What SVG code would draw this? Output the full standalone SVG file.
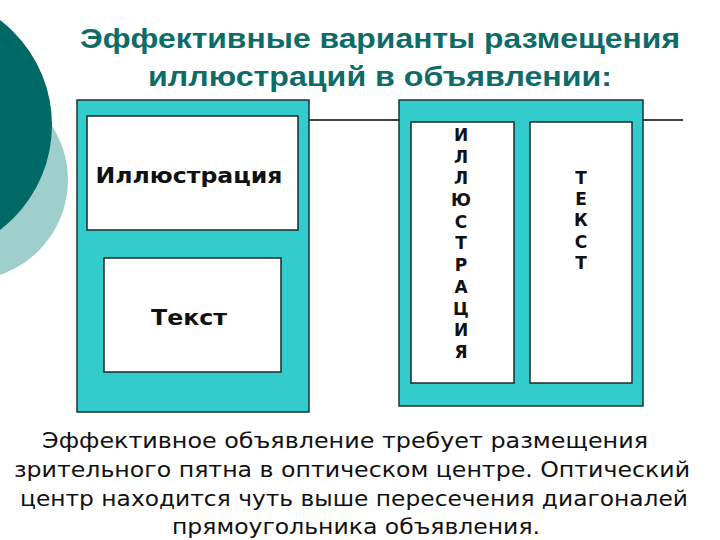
<svg xmlns="http://www.w3.org/2000/svg" width="720" height="540" viewBox="0 0 720 540">
<style>
.title{font-family:"Liberation Sans",Arial,sans-serif;font-weight:bold;font-size:28px;fill:#0d6b68;text-anchor:middle}
.lbl{font-family:"DejaVu Sans",Verdana,sans-serif;font-weight:bold;fill:#111;text-anchor:middle}
.body{font-family:"DejaVu Sans",Tahoma,sans-serif;font-size:22px;fill:#111;text-anchor:middle}
.outer{fill:#33cccc;stroke:#1a3333;stroke-width:1.5}
.inner{fill:#ffffff;stroke:#1a2a2a;stroke-width:1.5}
</style>
<rect width="720" height="540" fill="#ffffff"/>
<g id="decor">
<circle cx="-32" cy="180" r="100" fill="#9ecfcd"/>
<circle cx="-80" cy="125" r="132" fill="#006966"/>
</g>
<g id="title">
<text class="title" x="380" y="48" textLength="600" lengthAdjust="spacingAndGlyphs">Эффективные варианты размещения</text>
<text class="title" x="380" y="86" textLength="464" lengthAdjust="spacingAndGlyphs">иллюстраций в объявлении:</text>
</g>
<g id="connectors">
<line x1="309" y1="120" x2="683" y2="120" stroke="#000" stroke-width="1.3"/>
</g>
<g id="layout1">
<rect class="outer" x="77" y="100" width="232" height="312"/>
<g id="illus1">
<rect class="inner" x="87" y="116" width="211" height="114"/>
<text class="lbl" x="189" y="183" font-size="21" textLength="187" lengthAdjust="spacingAndGlyphs">Иллюстрация</text>
</g>
<g id="text1">
<rect class="inner" x="104" y="258" width="177" height="114"/>
<text class="lbl" x="189" y="325" font-size="21" textLength="76" lengthAdjust="spacingAndGlyphs">Текст</text>
</g>
</g>
<g id="layout2">
<rect class="outer" x="399" y="100" width="244" height="306"/>
<g id="illus2">
<rect class="inner" x="411" y="122" width="103" height="261"/>
<g class="lbl" font-size="17">
<text x="461" y="141">И</text>
<text x="461" y="163">Л</text>
<text x="461" y="184">Л</text>
<text x="461" y="206">Ю</text>
<text x="461" y="228">С</text>
<text x="461" y="249">Т</text>
<text x="461" y="271">Р</text>
<text x="461" y="293">А</text>
<text x="461" y="315">Ц</text>
<text x="461" y="336">И</text>
<text x="461" y="358">Я</text>
</g>
</g>
<g id="text2">
<rect class="inner" x="530" y="122" width="102" height="261"/>
<g class="lbl" font-size="17">
<text x="581" y="184">Т</text>
<text x="581" y="205">Е</text>
<text x="581" y="226">К</text>
<text x="581" y="248">С</text>
<text x="581" y="269">Т</text>
</g>
</g>
</g>
<g id="caption">
<text class="body" x="345" y="448" textLength="606" lengthAdjust="spacingAndGlyphs">Эффективное объявление требует размещения</text>
<text class="body" x="352" y="477" textLength="676" lengthAdjust="spacingAndGlyphs">зрительного пятна в оптическом центре. Оптический</text>
<text class="body" x="354" y="506" textLength="668" lengthAdjust="spacingAndGlyphs">центр находится чуть выше пересечения диагоналей</text>
<text class="body" x="356" y="534" textLength="368" lengthAdjust="spacingAndGlyphs">прямоугольника объявления.</text>
</g>
</svg>
